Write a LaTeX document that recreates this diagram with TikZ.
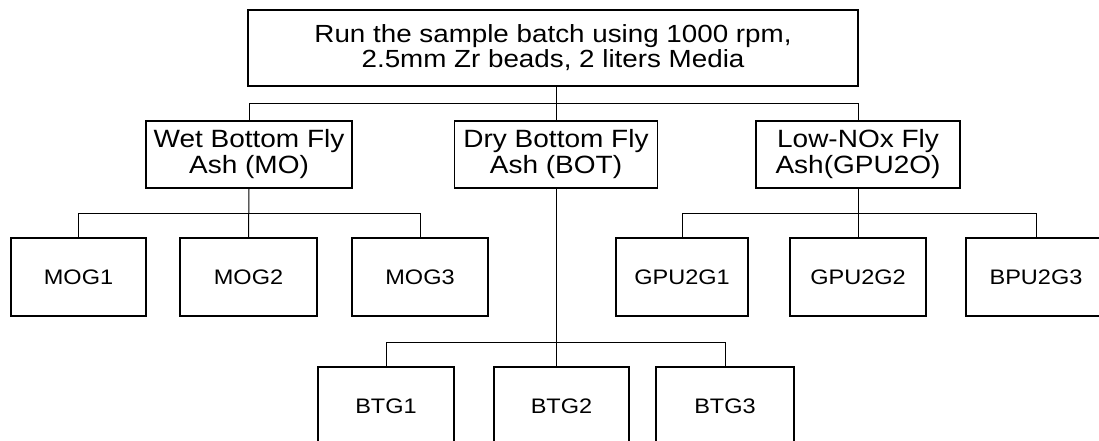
\documentclass[tikz,border=0pt]{standalone}
\usepackage{fontspec}
\setmainfont[FakeStretch=1.12]{Liberation Sans}
\begin{document}
\begin{tikzpicture}[x=1pt,y=-1pt,
  box/.style={draw, line width=1.6pt, inner sep=0pt, align=center},
  topbox/.style={box, minimum width=610pt, minimum height=76pt, font=\fontsize{24.8}{25}\selectfont},
  midbox/.style={box, minimum width=206pt, minimum height=67pt, font=\fontsize{25}{26}\selectfont},
  leaf/.style={box, minimum width=136pt, minimum height=78pt, font=\fontsize{21}{23}\selectfont},
  conn/.style={line width=1pt}]
\useasboundingbox (0,0) rectangle (1099,440);
\clip (0,0) rectangle (1099,440);
\node[topbox] (top) at (553,48) {Run the sample batch using 1000 rpm,\\2.5mm Zr beads, 2 liters Media};
\node[midbox] (MO) at (249,154.5) {Wet Bottom Fly\\Ash (MO)};
\node[midbox, minimum width=203pt] (BOT) at (556,154.5) {Dry Bottom Fly\\Ash (BOT)};
\node[midbox, minimum width=204pt] (LOW) at (858,154.5) {Low-NOx Fly\\Ash(GPU2O)};
\node[leaf, minimum width=135pt] (MOG1) at (78.5,277) {MOG1};
\node[leaf, minimum width=137pt] (MOG2) at (248.5,277) {MOG2};
\node[leaf] (MOG3) at (420,277) {MOG3};
\node[leaf, minimum width=132pt] (G1) at (682,277) {GPU2G1};
\node[leaf] (G2) at (858,277) {GPU2G2};
\node[leaf, minimum width=140pt] (G3) at (1036,277) {BPU2G3};
\node[leaf] (B1) at (386,406) {BTG1};
\node[leaf, minimum width=135pt] (B2) at (561.5,406) {BTG2};
\node[leaf, minimum width=138pt] (B3) at (725,406) {BTG3};
\coordinate (busT) at (0,103);
\coordinate (busM) at (0,213);
\coordinate (busB) at (0,342);
% top level
\draw[conn] (top.south -| BOT.north) -- (BOT.north);
\draw[conn] (MO.north) -- (MO.north |- busT) -- (LOW.north |- busT) -- (LOW.north);
% MO children
\draw[conn] (MO.south) -- (MOG2.north);
\draw[conn] (MOG1.north) -- (MOG1.north |- busM) -- (MOG3.north |- busM) -- (MOG3.north);
% LOW children
\draw[conn] (LOW.south) -- (G2.north);
\draw[conn] (G1.north) -- (G1.north |- busM) -- (G3.north |- busM) -- (G3.north);
% BOT children
\draw[conn] (BOT.south) -- (BOT.south |- B2.north);
\draw[conn] (B1.north) -- (B1.north |- busB) -- (B3.north |- busB) -- (B3.north);
\end{tikzpicture}
\end{document}
